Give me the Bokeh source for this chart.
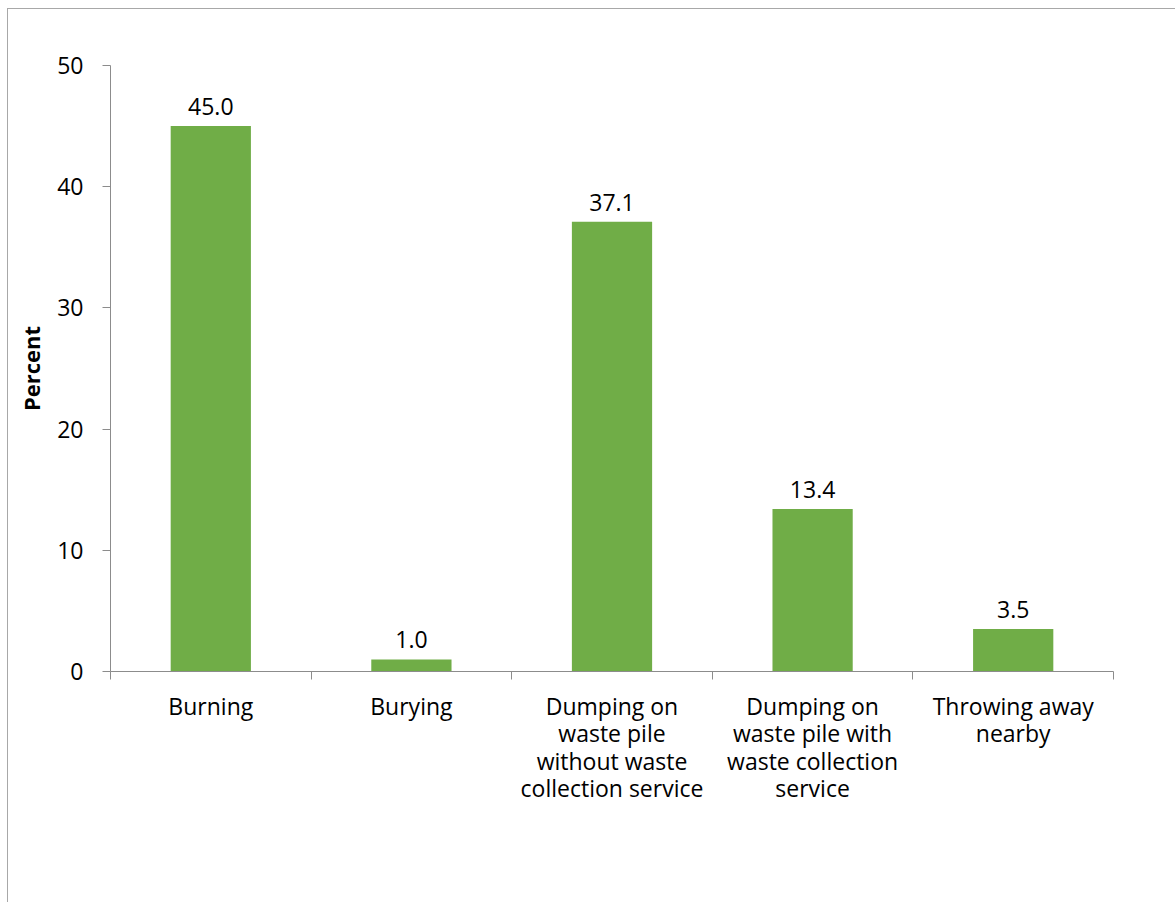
from bokeh.plotting import figure
from bokeh.models import ColumnDataSource, FixedTicker, Range1d, LinearAxis
from bokeh.core.properties import value
from bokeh.embed import file_html
from bokeh.resources import INLINE

categories = ["Burning", "Burying", "Dumping on\nwaste pile\nwithout waste\ncollection service",
              "Dumping on\nwaste pile with\nwaste collection\nservice", "Throwing away\nnearby"]
percent = [45.0, 1.0, 37.1, 13.4, 3.5]
y_ticks = [0, 10, 20, 30, 40, 50]

FONT = "Open Sans"
FS = "23px"
AXIS_COLOR = "#8c8c8c"

centers = [i + 0.5 for i in range(len(categories))]
src = ColumnDataSource(dict(x=centers, top=percent, label=[f"{v:.1f}" for v in percent]))

p = figure(width=1168, height=894, output_backend="svg", toolbar_location=None,
           x_range=Range1d(0, len(categories)), y_range=Range1d(0, 50),
           x_axis_type=None, min_border_left=102, min_border_right=63,
           min_border_top=56, min_border_bottom=232)
p.styles = {"margin-left": "7px", "margin-top": "8px",
            "border-left": "1px solid #a8a8a8", "border-top": "1px solid #a8a8a8"}
p.outline_line_color = None
p.grid.visible = False

p.vbar(x="x", top="top", width=0.4, bottom=0, source=src, fill_color="#70AD47", line_color=None)
p.text(x="x", y="top", text="label", source=src, y_offset=-11, text_align="center",
       text_baseline="bottom", text_font=value(FONT), text_font_size=FS, text_color="#000000")

xaxis = LinearAxis(ticker=FixedTicker(ticks=centers, minor_ticks=list(range(len(categories) + 1))),
                   major_label_overrides={c: lab for c, lab in zip(centers, categories)})
xaxis.major_tick_out = 0
xaxis.major_tick_in = 0
xaxis.minor_tick_out = 8
xaxis.minor_tick_in = 0
xaxis.minor_tick_line_color = AXIS_COLOR
xaxis.axis_line_color = AXIS_COLOR
xaxis.major_label_text_font = FONT
xaxis.major_label_text_font_size = FS
xaxis.major_label_text_color = "#000000"
xaxis.major_label_text_line_height = 0.86
xaxis.major_label_standoff = 10
p.add_layout(xaxis, "below")

ya = p.yaxis[0]
ya.ticker = FixedTicker(ticks=y_ticks)
ya.minor_tick_line_color = None
ya.major_tick_out = 8
ya.major_tick_in = 0
ya.major_tick_line_color = AXIS_COLOR
ya.axis_line_color = AXIS_COLOR
ya.major_label_text_font = FONT
ya.major_label_text_font_size = FS
ya.major_label_text_color = "#000000"
ya.major_label_standoff = 19
ya.axis_label = "Percent"
ya.axis_label_text_font = FONT
ya.axis_label_text_font_style = "bold"
ya.axis_label_text_font_size = "22px"
ya.axis_label_text_color = "#000000"
ya.axis_label_standoff = 8

open("out.html", "w").write(file_html(p, INLINE))
